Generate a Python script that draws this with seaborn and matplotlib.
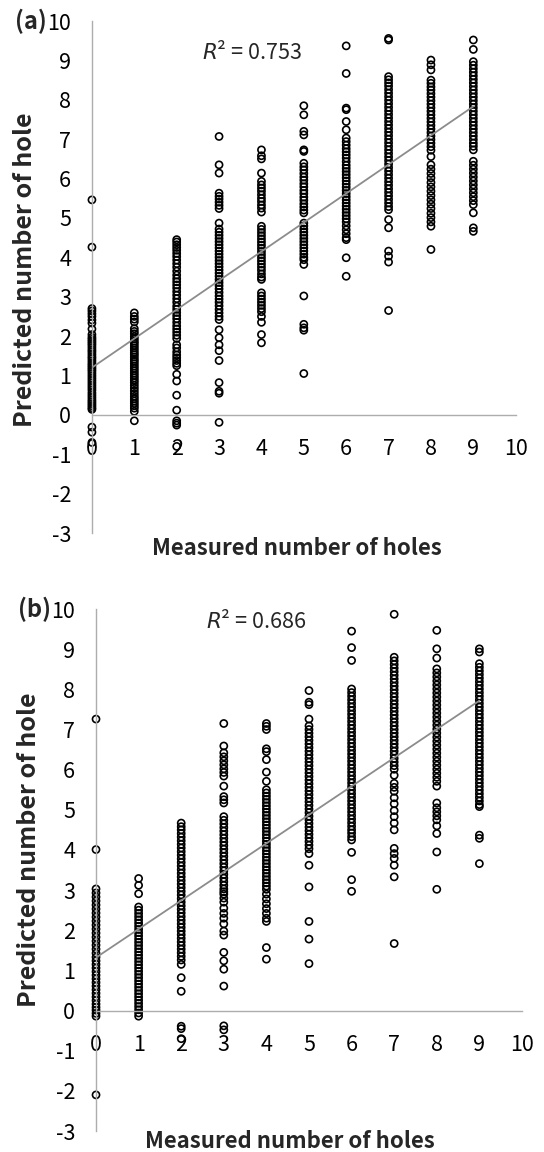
import numpy as np
import pandas as pd
import matplotlib
matplotlib.use("Agg")
import matplotlib.pyplot as plt
import seaborn as sns

# (a) predicted values for each measured number of holes (0..9)
a0 = [5.46, 4.26, 2.70, 2.64, 2.57, 2.50, 2.41, 2.33, 2.18, 2.04, 1.97, 1.92, 1.87, 1.82, 1.77, 1.71,
      1.65, 1.60, 1.54, 1.48, 1.43, 1.37, 1.31, 1.26, 1.21, 1.16, 1.11, 1.05, 0.99, 0.93, 0.87, 0.81,
      0.75, 0.69, 0.63, 0.56, 0.50, 0.44, 0.38, 0.33, 0.28, 0.23, 0.18, 0.14, -0.31, -0.44, -0.70]
a1 = [2.59, 2.50, 2.43, 2.36, 2.19, 2.12, 2.06, 1.99, 1.93, 1.87, 1.82, 1.76, 1.70, 1.64, 1.58, 1.53,
      1.47, 1.41, 1.36, 1.30, 1.24, 1.18, 1.12, 1.06, 1.00, 0.94, 0.88, 0.82, 0.75, 0.68, 0.61, 0.54,
      0.47, 0.41, 0.35, 0.29, 0.23, 0.17, 0.09, -0.15]
a2 = [4.45, 4.39, 4.32, 4.25, 4.18, 4.10, 4.02, 3.93, 3.84, 3.75, 3.65, 3.55, 3.46, 3.38, 3.30, 3.22,
      3.13, 3.04, 2.95, 2.86, 2.76, 2.68, 2.60, 2.52, 2.44, 2.35, 2.26, 2.18, 2.10, 2.02, 1.94, 1.78,
      1.70, 1.60, 1.52, 1.45, 1.38, 1.31, 1.25, 1.03, 0.86, 0.50, 0.12, -0.15, -0.21, -0.26, -0.80]
a3 = [7.07, 6.35, 6.14, 5.63, 5.55, 5.48, 5.40, 5.32, 5.24, 4.87, 4.72, 4.64, 4.56, 4.48, 4.40, 4.32,
      4.24, 4.16, 4.08, 4.00, 3.92, 3.84, 3.76, 3.68, 3.60, 3.52, 3.44, 3.36, 3.28, 3.20, 3.11, 3.02,
      2.94, 2.86, 2.77, 2.68, 2.59, 2.50, 2.42, 2.16, 1.96, 1.78, 1.63, 1.38, 0.82, 0.60, 0.55, -0.19]
a4 = [6.73, 6.58, 6.50, 6.14, 5.93, 5.84, 5.76, 5.68, 5.59, 5.50, 5.42, 5.33, 5.25, 5.15, 4.79, 4.71,
      4.63, 4.55, 4.47, 4.39, 4.31, 4.23, 4.15, 4.07, 3.99, 3.91, 3.83, 3.75, 3.67, 3.58, 3.50, 3.44,
      3.10, 3.02, 2.94, 2.86, 2.78, 2.70, 2.62, 2.50, 2.35, 2.04, 1.83]
a5 = [7.85, 7.62, 7.20, 7.11, 6.73, 6.69, 6.39, 6.30, 6.22, 6.13, 6.04, 5.96, 5.87, 5.79, 5.70, 5.62,
      5.53, 5.45, 5.36, 5.28, 5.20, 5.13, 4.87, 4.80, 4.72, 4.64, 4.56, 4.48, 4.40, 4.32, 4.24, 4.16,
      4.08, 4.00, 3.94, 3.82, 3.02, 2.30, 2.21, 2.15, 1.05]
a6 = [9.37, 8.67, 7.79, 7.75, 7.45, 7.24, 7.03, 6.94, 6.85, 6.76, 6.68, 6.60, 6.52, 6.43, 6.34, 6.26,
      6.18, 6.10, 6.02, 5.94, 5.86, 5.78, 5.70, 5.62, 5.54, 5.46, 5.38, 5.30, 5.22, 5.14, 5.06, 4.98,
      4.90, 4.80, 4.70, 4.60, 4.50, 4.45, 3.99, 3.52]
a7 = [9.56, 9.52, 8.59, 8.51, 8.43, 8.35, 8.26, 8.17, 8.08, 7.99, 7.90, 7.81, 7.72, 7.63, 7.54, 7.45,
      7.36, 7.27, 7.18, 7.09, 7.00, 6.91, 6.82, 6.73, 6.64, 6.55, 6.46, 6.37, 6.28, 6.19, 6.10, 6.01,
      5.92, 5.83, 5.74, 5.65, 5.56, 5.47, 5.38, 5.29, 5.21, 4.96, 4.75, 4.16, 4.03, 3.88, 2.65]
a8 = [9.01, 8.89, 8.76, 8.50, 8.42, 8.33, 8.25, 8.16, 8.07, 7.98, 7.89, 7.80, 7.71, 7.62, 7.53, 7.44,
      7.35, 7.26, 7.17, 7.08, 6.99, 6.90, 6.81, 6.72, 6.56, 6.35, 6.24, 6.13, 6.02, 5.90, 5.79, 5.68,
      5.57, 5.46, 5.35, 5.24, 5.12, 5.01, 4.90, 4.79, 4.20]
a9 = [9.52, 9.28, 8.97, 8.88, 8.79, 8.70, 8.61, 8.52, 8.43, 8.34, 8.25, 8.16, 8.07, 7.98, 7.89, 7.80,
      7.71, 7.62, 7.53, 7.44, 7.35, 7.26, 7.17, 7.08, 6.99, 6.90, 6.82, 6.73, 6.44, 6.34, 6.24, 6.14,
      6.04, 5.94, 5.84, 5.74, 5.64, 5.54, 5.44, 5.34, 5.13, 4.75, 4.66]

# (b)
b0 = [7.26, 4.01, 3.03, 2.93, 2.83, 2.73, 2.63, 2.53, 2.43, 2.33, 2.23, 2.13, 2.03, 1.93, 1.83, 1.73,
      1.63, 1.53, 1.43, 1.33, 1.24, 1.15, 1.06, 0.97, 0.88, 0.79, 0.70, 0.61, 0.52, 0.43, 0.34, 0.25,
      0.16, 0.08, 0.01, -0.07, -0.14, -2.10]
b1 = [3.29, 3.12, 2.91, 2.58, 2.50, 2.42, 2.34, 2.26, 2.18, 2.10, 2.02, 1.94, 1.86, 1.78, 1.70, 1.62,
      1.54, 1.46, 1.38, 1.30, 1.22, 1.14, 1.06, 0.98, 0.90, 0.82, 0.74, 0.66, 0.58, 0.50, 0.42, 0.34,
      0.26, 0.18, 0.10, 0.02, -0.06, -0.14]
b2 = [4.67, 4.58, 4.50, 4.41, 4.32, 4.23, 4.14, 4.05, 3.96, 3.87, 3.78, 3.69, 3.60, 3.51, 3.42, 3.33,
      3.24, 3.15, 3.06, 2.97, 2.88, 2.79, 2.70, 2.61, 2.52, 2.43, 2.34, 2.25, 2.16, 2.07, 1.98, 1.89,
      1.80, 1.71, 1.62, 1.53, 1.44, 1.35, 1.26, 1.15, 0.82, 0.48, -0.39, -0.45, -0.70]
b3 = [7.15, 6.59, 6.42, 6.32, 6.22, 6.12, 6.02, 5.93, 5.84, 5.59, 5.33, 5.25, 5.17, 4.83, 4.74, 4.65,
      4.56, 4.47, 4.38, 4.29, 4.20, 4.11, 4.02, 3.93, 3.84, 3.75, 3.66, 3.57, 3.48, 3.39, 3.30, 3.21,
      3.12, 3.03, 2.96, 2.90, 2.80, 2.70, 2.55, 2.42, 2.30, 2.16, 1.98, 1.88, 1.45, 1.24, 1.03, 0.61,
      -0.38, -0.48]
b4 = [7.15, 7.08, 7.00, 6.52, 6.45, 6.25, 5.94, 5.71, 5.50, 5.42, 5.34, 5.26, 5.18, 5.10, 5.02, 4.94,
      4.86, 4.78, 4.70, 4.62, 4.54, 4.46, 4.38, 4.30, 4.22, 4.14, 4.06, 3.98, 3.90, 3.82, 3.74, 3.66,
      3.58, 3.50, 3.42, 3.34, 3.26, 3.18, 3.10, 3.02, 2.90, 2.78, 2.66, 2.54, 2.42, 2.30, 2.22, 1.57, 1.28]
b5 = [7.97, 7.68, 7.62, 7.26, 7.09, 7.00, 6.91, 6.82, 6.73, 6.64, 6.55, 6.46, 6.37, 6.28, 6.19, 6.10,
      6.01, 5.92, 5.83, 5.74, 5.65, 5.56, 5.47, 5.38, 5.29, 5.20, 5.11, 5.02, 4.93, 4.84, 4.75, 4.66,
      4.57, 4.48, 4.39, 4.30, 4.21, 4.12, 4.03, 3.91, 3.62, 3.08, 2.22, 1.78, 1.17]
b6 = [9.45, 9.04, 8.72, 8.01, 7.92, 7.83, 7.74, 7.65, 7.56, 7.47, 7.38, 7.29, 7.20, 7.11, 7.02, 6.93,
      6.84, 6.75, 6.66, 6.57, 6.48, 6.39, 6.30, 6.21, 6.12, 6.03, 5.94, 5.85, 5.76, 5.67, 5.58, 5.49,
      5.40, 5.31, 5.22, 5.13, 5.04, 4.95, 4.86, 4.77, 4.68, 4.59, 4.50, 4.42, 4.33, 4.25, 3.94, 3.26, 2.97]
b7 = [9.87, 8.80, 8.71, 8.62, 8.53, 8.44, 8.35, 8.26, 8.17, 8.08, 7.99, 7.90, 7.81, 7.72, 7.63, 7.54,
      7.45, 7.36, 7.27, 7.18, 7.09, 7.00, 6.91, 6.82, 6.73, 6.64, 6.55, 6.46, 6.37, 6.28, 6.19, 6.10,
      6.01, 5.86, 5.66, 5.56, 5.46, 5.30, 5.15, 4.98, 4.83, 4.67, 4.50, 4.04, 3.91, 3.79, 3.62, 3.33, 1.67]
b8 = [9.47, 9.01, 8.78, 8.51, 8.41, 8.31, 8.21, 8.11, 8.01, 7.91, 7.81, 7.71, 7.61, 7.51, 7.41, 7.31,
      7.21, 7.11, 7.01, 6.91, 6.81, 6.71, 6.61, 6.51, 6.41, 6.31, 6.21, 6.11, 6.01, 5.91, 5.81, 5.71,
      5.59, 5.17, 5.05, 4.95, 4.85, 4.75, 4.60, 4.41, 3.95, 3.02]
b9 = [9.01, 8.93, 8.64, 8.55, 8.46, 8.37, 8.28, 8.19, 8.10, 8.01, 7.92, 7.83, 7.74, 7.65, 7.56, 7.47,
      7.38, 7.29, 7.20, 7.11, 7.02, 6.93, 6.84, 6.75, 6.66, 6.57, 6.48, 6.39, 6.30, 6.21, 6.12, 6.03,
      5.94, 5.85, 5.76, 5.67, 5.58, 5.49, 5.40, 5.31, 5.22, 5.13, 5.08, 4.37, 4.29, 3.66]

panel_a = [a0, a1, a2, a3, a4, a5, a6, a7, a8, a9]
panel_b = [b0, b1, b2, b3, b4, b5, b6, b7, b8, b9]
# trend lines (intercept, slope)
fit_a = (1.20, 0.737)
fit_b = (1.32, 0.711)
r2_labels = ["0.753", "0.686"]
panel_tags = ["(a)", "(b)"]
y_ticks = list(range(-3, 11))
x_ticks = list(range(0, 11))


def to_frame(cols):
    rows = []
    for measured, vals in enumerate(cols):
        for v in vals:
            rows.append({"measured": measured, "predicted": v})
    return pd.DataFrame(rows)


sns.set_style("white")
plt.rcParams['font.family'] = ['Noto Sans CJK KR', 'DejaVu Sans']
plt.rcParams['axes.unicode_minus'] = False

fig = plt.figure(figsize=(5.44, 11.52), dpi=100)
axes = [fig.add_axes([0.169, 0.5373, 0.779, 0.4444]),
        fig.add_axes([0.1765, 0.0182, 0.783, 0.4531])]

grey = "#adadad"
ylab_y = [0.514, 0.538]
xlab_x = [0.483, 0.455]
xlab_y = [-0.03, -0.021]
r2_pos = [(3.77, 9.19), (3.76, 9.68)]

for i, (ax, cols, fit) in enumerate(zip(axes, [panel_a, panel_b], [fit_a, fit_b])):
    df = to_frame(cols)
    line = pd.DataFrame({"measured": [0, 9]})
    line["predicted"] = fit[0] + fit[1] * line["measured"]
    sns.lineplot(data=line, x="measured", y="predicted", ax=ax,
                 color="#8c8c8c", lw=1.3, zorder=3)
    sns.scatterplot(data=df, x="measured", y="predicted", ax=ax, s=26,
                    facecolors="none", edgecolor="black", linewidth=1.2,
                    clip_on=False, zorder=2)
    ax.set_xlim(0, 10)
    ax.set_ylim(-3, 10)
    ax.set_xticks(x_ticks)
    ax.set_yticks(y_ticks)
    for s in ["top", "right"]:
        ax.spines[s].set_visible(False)
    ax.spines["bottom"].set_position(("data", 0))
    for s in ["left", "bottom"]:
        ax.spines[s].set_color(grey)
        ax.spines[s].set_linewidth(1.0)
    ax.tick_params(axis="both", direction="out", length=5, width=1.0, color=grey,
                   labelsize=15.5, labelcolor="black")
    ax.tick_params(axis="x", pad=12)
    ax.tick_params(axis="y", pad=10)

    ax.set_ylabel("Predicted number of hole", fontsize=18, fontweight="bold",
                  va="center", ha="center")
    ax.yaxis.set_label_coords(-0.158, ylab_y[i])
    ax.set_xlabel("Measured number of holes", fontsize=16, fontweight="bold",
                  va="center", ha="center")
    ax.xaxis.set_label_coords(xlab_x[i], xlab_y[i])

    ax.text(r2_pos[i][0], r2_pos[i][1], r"$R$² = " + r2_labels[i],
            fontsize=15.5, ha="center", va="center")
    ax.text(-0.145, 1.0, panel_tags[i], transform=ax.transAxes,
            fontsize=17, fontweight="bold", ha="center", va="center")

fig.savefig("out.png", dpi=100)
